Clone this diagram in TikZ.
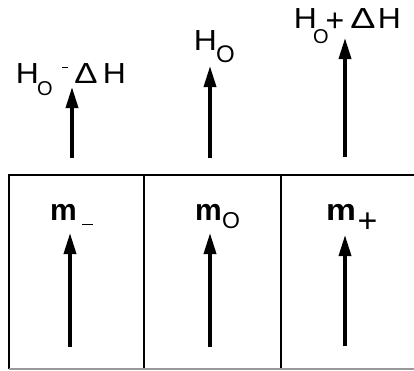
\documentclass[tikz,border=0pt]{standalone}
\usepackage{fontspec}
\setmainfont{Liberation Sans}
\usepackage{graphicx}
\usetikzlibrary{arrows.meta}
\newcommand\mySize[1]{\fontsize{#1pt}{#1pt}\selectfont}
\newcommand\pc[2]{\makebox[#1pt][c]{#2}}
\newcommand\bigH{\scalebox{1.1}[1]{\mySize{29}H}}
\newcommand\bigD[1]{\scalebox{#1}[1]{\mySize{29}Δ}}
\newcommand\bigM[1]{\scalebox{#1}[1]{\mySize{30}\bfseries m}}
\tikzset{
  moment/.style={line width=3.5pt,-{Triangle[length=21pt,width=12pt]}},
  wall/.style={line width=1.8pt},
  lbl/.style={anchor=base west,inner sep=0pt,outer sep=0pt}
}
\begin{document}
\begin{tikzpicture}[x=1pt,y=-1pt]
\useasboundingbox (0,0) rectangle (414,370);
% box
\coordinate (tl) at (9,175);
\coordinate (tr) at (414,175);
\coordinate (bl) at (9,369);
\coordinate (br) at (414,369);
\coordinate (d1t) at (144,175);
\coordinate (d1b) at (144,369);
\coordinate (d2t) at (281,175);
\coordinate (d2b) at (281,369);
\draw[wall] (bl) -- (tl) -- (tr);
\draw[wall] (d1t) -- (d1b);
\draw[wall] (d2t) -- (d2b);
\draw[line width=1.2pt,black!40] (bl) -- (br);
% field arrows
\coordinate (fa1) at (72,158); \coordinate (fb1) at (72,87);
\coordinate (fa2) at (210,158); \coordinate (fb2) at (210,66);
\coordinate (fa3) at (345,157); \coordinate (fb3) at (345,38);
\draw[moment] (fa1) -- (fb1);
\draw[moment] (fa2) -- (fb2);
\draw[moment] (fa3) -- (fb3);
% moment arrows
\coordinate (ma1) at (70,347); \coordinate (mb1) at (70,233);
\coordinate (ma2) at (210,347); \coordinate (mb2) at (210,233);
\coordinate (ma3) at (345,346); \coordinate (mb3) at (345,235);
\draw[moment] (ma1) -- (mb1);
\draw[moment] (ma2) -- (mb2);
\draw[moment] (ma3) -- (mb3);
% field labels
\node[lbl] (hL) at (18,83) {\pc{19}{\bigH}\pc{16}{\raisebox{-12pt}{\mySize{20}O}}\pc{24}{\rule[15pt]{6pt}{1.5pt}}\pc{18}{\bigD{1.2}}\pc{39}{\bigH}};
\node[lbl] (hM) at (196,50) {\pc{19}{\bigH}\pc{21}{\raisebox{-12pt}{\mySize{24}O}}};
\node[lbl] (hR) at (296,28) {\pc{19}{\bigH}\pc{12}{\raisebox{-15pt}{\mySize{20}O}}\pc{16}{\raisebox{-3pt}{\mySize{32}+}}\pc{40}{\bigD{1.3}}\pc{13}{\bigH}};
% moment labels
\node[lbl] (mL) at (52,220) {\pc{23}{\bigM{1.0}}\pc{25}{\rule[-5pt]{11pt}{1.5pt}}};
\node[lbl] (mM) at (197,220) {\pc{23}{\bigM{1.0}}\pc{22}{\raisebox{-8pt}{\mySize{23}O}}};
\node[lbl] (mR) at (328,220) {\pc{26}{\bigM{1.12}}\pc{27}{\raisebox{-12pt}{\mySize{34}+}}};
\end{tikzpicture}
\end{document}
